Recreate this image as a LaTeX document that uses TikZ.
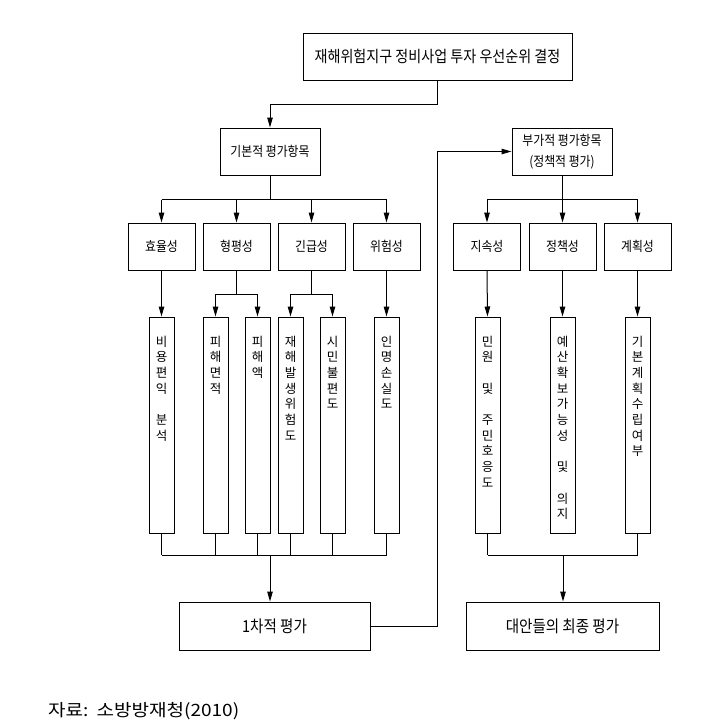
\documentclass[tikz,border=0pt]{standalone}
\usepackage{fontspec}
\setmainfont{Noto Sans CJK KR}
\newfontfamily\boxfont[FakeStretch=0.88]{Noto Sans CJK KR}
\newfontfamily\srcfont[FakeStretch=1.12]{Noto Sans CJK KR}
\usetikzlibrary{arrows.meta}
\tikzset{
  box/.style={draw,line width=1pt,inner sep=0pt,font=\boxfont\fontsize{13.5}{21}\selectfont},
  groupbox/.style={box,minimum width=100pt,minimum height=47pt},
  critbox/.style={box,minimum width=67pt,minimum height=47pt},
  resultbox/.style={box,minimum height=48pt,font=\boxfont\fontsize{16.5}{19}\selectfont},
  itembox/.style={draw,line width=1pt,inner sep=0pt,minimum width=25pt,minimum height=216pt},
  itemtext/.style={anchor=north,yshift=-19pt,inner sep=0pt,align=center,font=\fontsize{12.5}{15.7}\selectfont},
  link/.style={line width=1pt},
  arr/.style={link,-{Triangle[length=10pt,width=5.5pt]}}
}
% tall item box with stacked text: name, x, text
\newcommand{\drawitem}[3]{
  \node[itembox,label={[itemtext]north:{#3}}] (#1) at (#2,425) {};
}

\begin{document}
\begin{tikzpicture}[x=1pt,y=-1pt]
  \useasboundingbox (0,0) rectangle (714,726);

  % goal
  \node[box,minimum width=269pt,minimum height=47pt,font=\boxfont\fontsize{16}{19}\selectfont] (goal) at (437.5,56.5) {재해위험지구 정비사업 투자 우선순위 결정};

  % groups
  \node[groupbox] (basic) at (270,151.5) {기본적 평가항목};
  \node[groupbox,align=center] (extra) at (562,151.5) {부가적 평가항목\\(정책적 평가)};

  % criteria
  \node[critbox] (eff) at (161.5,246.5) {효율성};
  \node[critbox] (equ) at (236.5,246.5) {형평성};
  \node[critbox] (urg) at (311.5,246.5) {긴급성};
  \node[critbox] (risk) at (386.5,246.5) {위험성};
  \node[critbox] (sus) at (487,246.5) {지속성};
  \node[critbox] (pol) at (562.5,246.5) {정책성};
  \node[critbox] (plan) at (637.5,246.5) {계획성};

  % items
  \drawitem{cost}{161.5}{비\\용\\편\\익\\~\\분\\석}
  \drawitem{area}{215.5}{피\\해\\면\\적}
  \drawitem{loss}{257.5}{피\\해\\액}
  \drawitem{hazard}{290.5}{재\\해\\발\\생\\위\\험\\도}
  \drawitem{civil}{332.5}{시\\민\\불\\편\\도}
  \drawitem{life}{386.5}{인\\명\\손\\실\\도}
  \drawitem{resid}{487.5}{민\\원\\~\\및\\~\\주\\민\\호\\응\\도}
  \drawitem{budget}{562.5}{예\\산\\확\\보\\가\\능\\성\\~\\및\\~\\의\\지}
  \drawitem{master}{637.5}{기\\본\\계\\획\\수\\립\\여\\부}

  % results
  \node[resultbox,minimum width=191pt] (first) at (274.5,626) {1차적 평가};
  \node[resultbox,minimum width=193pt] (final) at (562.5,626) {대안들의 최종 평가};

  % source
  \node[anchor=west,inner sep=0pt,font=\srcfont\fontsize{17}{20}\selectfont] (src) at (48,711) {자료:\hspace{8pt}소방방재청(2010)};

  % goal to basic
  \draw[arr] (goal.south) -- ++(0,24) -| (basic.north);

  % groups to criteria
  \draw[link] (basic.south) -- ++(0,24) coordinate (bsplit);
  \draw[link] (eff.north |- bsplit) -- (risk.north |- bsplit);
  \foreach \c in {eff,equ,urg,risk}
    \draw[arr] (\c.north |- bsplit) -- (\c.north);
  \draw[link] (extra.south) -- ++(0,24) coordinate (xsplit);
  \draw[link] (sus.north |- xsplit) -- (plan.north |- xsplit);
  \foreach \c in {sus,pol,plan}
    \draw[arr] (\c.north |- xsplit) -- (\c.north);

  % criteria to items
  \draw[arr] (eff.south) -- (cost.north);
  \draw[link] (equ.south) -- ++(0,24) coordinate (esplit);
  \draw[arr] (esplit) -| (area.north);
  \draw[arr] (esplit) -| (loss.north);
  \draw[link] (urg.south) -- ++(0,24) coordinate (usplit);
  \draw[arr] (usplit) -| (hazard.north);
  \draw[arr] (usplit) -| (civil.north);
  \draw[arr] (risk.south) -- (life.north);
  \draw[arr] (sus.south) -- (resid.north);
  \draw[arr] (pol.south) -- (budget.north);
  \draw[arr] (plan.south) -- (master.north);

  % items to results
  \coordinate (lmerge) at (270,555);
  \foreach \i in {cost,area,loss,hazard,civil,life}
    \draw[link] (\i.south) -- (\i.south |- lmerge);
  \draw[link] (cost.south |- lmerge) -- (life.south |- lmerge);
  \draw[arr] (lmerge) -- (lmerge |- first.north);
  \coordinate (rmerge) at (563,555);
  \foreach \i in {resid,master}
    \draw[link] (\i.south) -- (\i.south |- rmerge);
  \draw[link] (resid.south |- rmerge) -- (master.south |- rmerge);
  \draw[arr] (rmerge) -- (rmerge |- final.north);

  % first result back to extra group
  \draw[arr] (first.east) -- (goal.south |- first.east) |- (extra.west);
\end{tikzpicture}
\end{document}
